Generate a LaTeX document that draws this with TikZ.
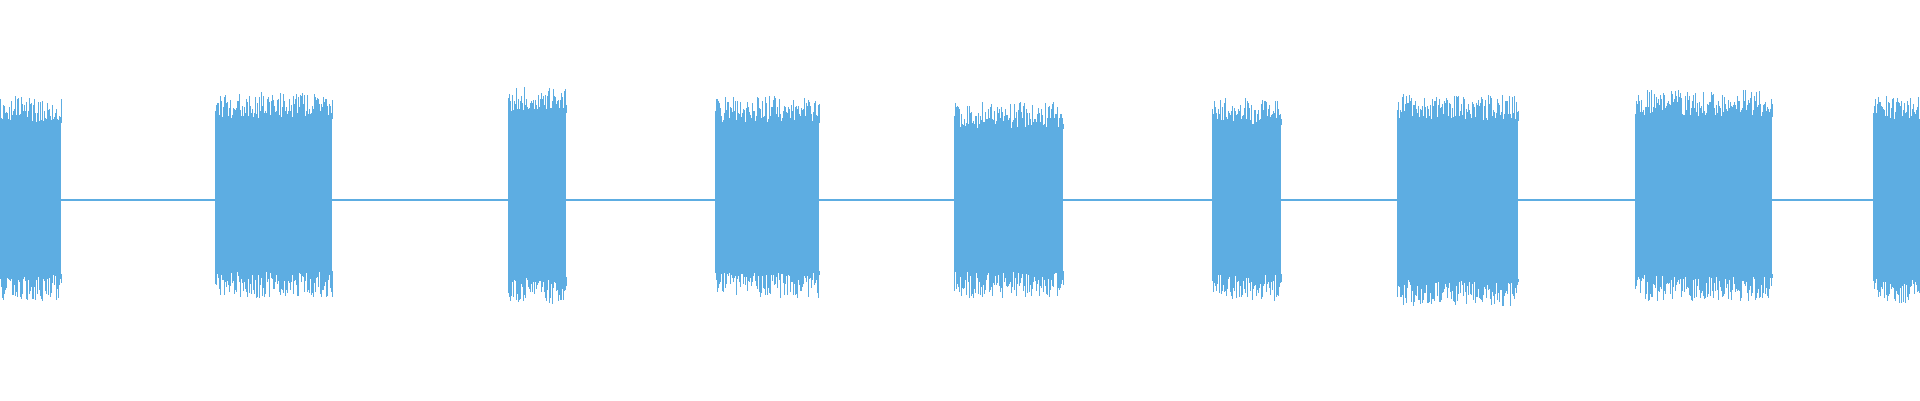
\documentclass[tikz,border=0pt]{standalone}
\definecolor{wave}{RGB}{93,173,226}
\begin{document}
\begin{tikzpicture}[x=1pt,y=-1pt]
\useasboundingbox (0,0) rectangle (1920,400);
\pgfmathsetseed{7}
\draw[wave,line width=1.2pt] (0,200) -- (1920,200);
\foreach \a/\b/\t/\u in {0/61/122/275, 215/332/118/272, 508/566/112/278, 715/819/122/272, 954/1063/128/272, 1212/1281/124/275, 1397/1518/120/280, 1635/1772/116/275, 1873/1920/120/278}{
  \fill[wave] (\a,\t) rectangle (\b,\u);
  \foreach \x in {\a,...,\b}{
    \pgfmathsetmacro\h{rnd*26}
    \pgfmathsetmacro\g{rnd*26}
    \draw[wave,line width=0.6pt] (\x,\t+1) -- (\x,\t-\h);
    \draw[wave,line width=0.6pt] (\x,\u-1) -- (\x,\u+\g);
  }
}
\end{tikzpicture}
\end{document}
